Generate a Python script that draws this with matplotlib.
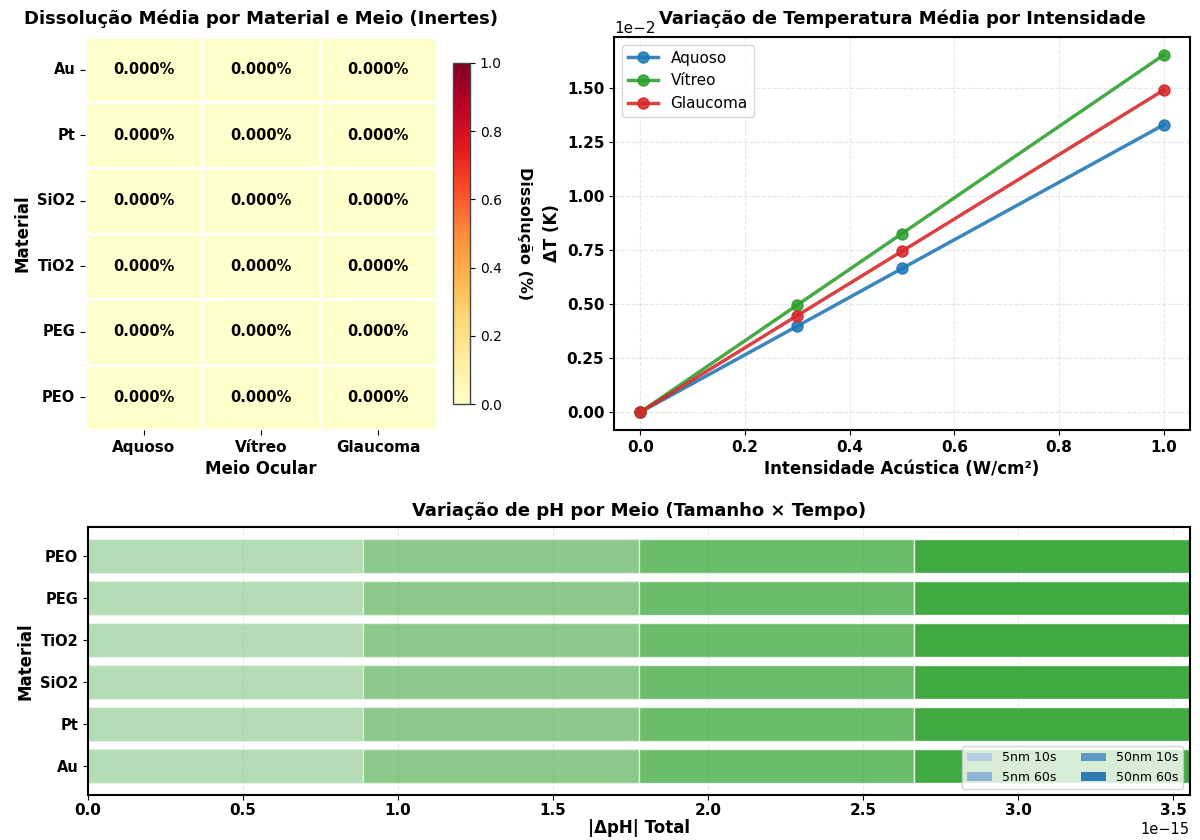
import matplotlib
matplotlib.use("Agg")
import matplotlib.pyplot as plt
from matplotlib.patches import Patch
import numpy as np
import pandas as pd
import seaborn as sns

# data
materials = ["Au", "Pt", "SiO2", "TiO2", "PEG", "PEO"]
meios = ["Aquoso", "Vítreo", "Glaucoma"]
dissolucao = [[0.0, 0.0, 0.0] for _ in materials]

intensidade = [0.0, 0.3, 0.5, 1.0]
dT_aquoso = [0.0, 0.00399, 0.00666, 0.01332]
dT_vitreo = [0.0, 0.00497, 0.00828, 0.01656]
dT_glaucoma = [0.0, 0.00448, 0.00746, 0.01493]

combos = ["5nm 10s", "5nm 60s", "50nm 10s", "50nm 60s"]
dph_5nm_10s = [8.881784197001252e-16] * 6
dph_5nm_60s = [8.881784197001252e-16] * 6
dph_50nm_10s = [8.881784197001252e-16] * 6
dph_50nm_60s = [8.881784197001252e-16] * 6

fig = plt.figure(figsize=(12, 8.4), dpi=100)
ax1 = fig.add_axes([0.0708, 0.488, 0.2933, 0.468])
cax = fig.add_axes([0.3775, 0.519, 0.0142, 0.406])
ax2 = fig.add_axes([0.5117, 0.488, 0.4800, 0.468])
ax3 = fig.add_axes([0.0733, 0.0536, 0.9180, 0.319])

# --- heatmap ---
df = pd.DataFrame(dissolucao, index=materials, columns=meios)
sns.heatmap(df, ax=ax1, cbar_ax=cax, cmap="YlOrRd", vmin=0, vmax=1,
            annot=True, fmt=".3f", linewidths=2, linecolor="white",
            annot_kws={"fontsize": 10.5, "fontweight": "bold", "color": "black"})
for t in ax1.texts:
    t.set_text(t.get_text() + "%")
ax1.set_title("Dissolução Média por Material e Meio (Inertes)", fontsize=13, fontweight="bold", pad=9)
ax1.set_xlabel("Meio Ocular", fontsize=12, fontweight="bold")
ax1.set_ylabel("Material", fontsize=12, fontweight="bold")
ax1.set_xticklabels(meios, fontsize=11, fontweight="bold", rotation=0)
ax1.set_yticklabels(materials, fontsize=10.5, fontweight="bold", rotation=0)
cb = ax1.collections[0].colorbar
cb.outline.set_linewidth(1)
cb.outline.set_edgecolor("#444444")
cax.tick_params(labelsize=10)
cax.set_ylabel("Dissolução (%)", fontsize=11.5, fontweight="bold", rotation=270, labelpad=22)

# --- temperature lines ---
ax2.plot(intensidade, dT_aquoso, marker="o", color="tab:blue", lw=2.5, ms=8, alpha=0.88, label="Aquoso")
ax2.plot(intensidade, dT_vitreo, marker="o", color="tab:green", lw=2.5, ms=8, alpha=0.88, label="Vítreo")
ax2.plot(intensidade, dT_glaucoma, marker="o", color="tab:red", lw=2.5, ms=8, alpha=0.88, label="Glaucoma")
ax2.set_title("Variação de Temperatura Média por Intensidade", fontsize=13, fontweight="bold", pad=9)
ax2.set_xlabel("Intensidade Acústica (W/cm²)", fontsize=12, fontweight="bold")
ax2.set_ylabel("ΔT (K)", fontsize=12, fontweight="bold")
ax2.ticklabel_format(axis="y", style="sci", scilimits=(0, 0))
ax2.yaxis.get_offset_text().set_fontsize(11)
ax2.grid(True, linestyle="--", alpha=0.3)
ax2.legend(loc="upper left", fontsize=11)
ax2.tick_params(labelsize=11)
for lab in ax2.get_xticklabels() + ax2.get_yticklabels():
    lab.set_fontweight("bold")
for s in ax2.spines.values():
    s.set_linewidth(1.5)

# --- stacked pH bars ---
alphas = [0.35, 0.55, 0.7, 0.9]
legend_colors = ["#b3cde3", "#8fb4d6", "#5d9ac8", "#2e7ab5"]
series = [dph_5nm_10s, dph_5nm_60s, dph_50nm_10s, dph_50nm_60s]
y = np.arange(len(materials))
left = np.zeros(len(materials))
for vals, a in zip(series, alphas):
    ax3.barh(y, vals, left=left, height=0.8, color="tab:green", alpha=a,
             edgecolor="white", linewidth=1)
    left = left + np.array(vals)
ax3.set_xlim(0, left.max())
ax3.set_yticks(y)
ax3.set_yticklabels(materials, fontsize=10.5, fontweight="bold")
ax3.tick_params(axis="x", labelsize=11, pad=2)
for lab in ax3.get_xticklabels():
    lab.set_fontweight("bold")
ax3.xaxis.get_offset_text().set_fontsize(10.5)
ax3.set_title("Variação de pH por Meio (Tamanho × Tempo)", fontsize=13, fontweight="bold", pad=8)
ax3.set_xlabel("|ΔpH| Total", fontsize=12, fontweight="bold", labelpad=1)
ax3.set_ylabel("Material", fontsize=12, fontweight="bold")
ax3.grid(True, axis="x", linestyle="--", alpha=0.3)
ax3.set_axisbelow(True)
handles = [Patch(facecolor=c, label=l) for l, c in zip(combos, legend_colors)]
ax3.legend(handles=handles, loc="lower right", ncol=2, fontsize=9)
for s in ax3.spines.values():
    s.set_linewidth(1.5)

plt.savefig("out.png", dpi=100)
